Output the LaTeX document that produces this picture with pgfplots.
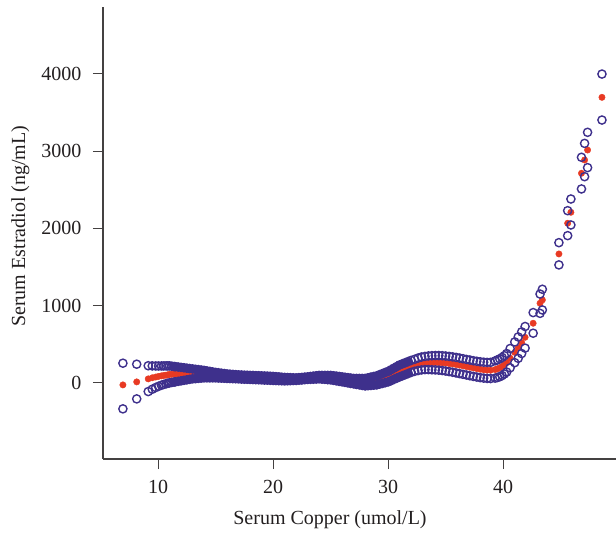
\documentclass[border=0pt]{standalone}
\usepackage{fontspec}
\setmainfont{Liberation Serif}
\usepackage{pgfplots}
\usepackage{pgfplotstable}
\pgfplotsset{compat=1.18}

\definecolor{ciblue}{RGB}{62,48,140}
\definecolor{fitred}{RGB}{232,58,35}
\definecolor{inkgray}{RGB}{35,31,32}

% columns: x, fitted value, lower and upper confidence limit
\pgfplotstableread{
x     fit   lo    hi
6.95  -26   -336  255
8.15  13    -207  242
9.15  52    -112  222
9.50  66    -82   220
9.80  76    -60   219
10.05 84    -44   219
10.30 91    -30   219
10.50 96    -20   220
10.70 100   -11   220
10.85 104   -5    220
11.00 110   0     220
11.20 111   6     216
11.40 112   11    212
}\lefttail

\pgfplotstableread{
x     fit  lo   hi
11.50 112  13   210
11.75 113  20   206
12.00 113  26   201
12.25 114  33   196
12.50 115  39   191
12.75 116  46   186
13.00 116  52   181
13.25 116  55   176
13.50 115  59   172
13.75 114  62   167
14.00 113  65   162
14.25 110  65   155
14.50 107  65   149
14.75 104  65   142
15.00 100  65   136
15.25 97   63   131
15.50 94   62   126
15.75 90   60   121
16.00 87   58   116
16.25 85   57   113
16.50 83   55   110
16.75 80   54   107
17.00 78   52   104
17.25 76   50   102
17.50 74   48   100
17.75 73   47   99
18.00 71   45   97
18.25 70   44   96
18.50 68   42   94
18.75 67   41   93
19.00 65   39   91
19.25 63   37   89
19.50 62   36   88
19.75 60   34   86
20.00 58   32   84
20.25 56   31   81
20.50 53   29   78
20.75 51   28   74
21.00 48   26   71
21.25 48   28   69
21.50 48   29   68
21.75 48   31   66
22.00 48   32   65
22.25 52   35   68
22.50 55   38   71
22.75 58   42   75
23.00 61   45   78
23.25 65   47   83
23.50 68   48   88
23.75 71   50   92
24.00 75   52   97
24.25 73   49   97
24.50 71   46   97
24.75 70   42   97
25.00 68   39   97
25.25 62   33   92
25.50 57   26   88
25.75 51   20   83
26.00 45   13   78
26.25 40   7    73
26.50 34   0    68
26.75 28   -7   63
27.00 22   -13  58
27.25 19   -20  58
27.50 16   -26  58
27.75 13   -33  58
28.00 10   -39  58
28.25 15   -36  66
28.50 21   -33  75
28.75 27   -29  83
29.00 32   -26  91
29.25 45   -16  106
29.50 57   -7   120
29.75 69   3    135
30.00 81   13   149
30.25 100  29   170
30.50 118  46   191
30.75 137  62   212
31.00 155  78   233
31.25 170  93   248
31.50 184  107  262
31.75 199  122  277
}\dense

\pgfplotstableread{
x     fit   lo    hi
32.00 213   136   291
32.30 222   150   305
32.60 235   160   322
32.90 245   168   335
33.20 252   172   343
33.50 257   172   349
33.80 260   170   352
34.10 262   168   354
34.40 262   165   354
34.70 260   160   352
35.00 256   153   348
35.30 251   146   343
35.60 245   138   337
35.90 238   129   330
36.20 230   120   322
36.50 221   111   313
36.80 212   102   304
37.10 203   93    296
37.40 194   84    287
37.70 185   76    280
38.00 177   68    273
38.30 170   62    268
38.60 165   58    265
38.90 164   56    266
39.30 172   62    285
39.50 182   70    298
39.70 195   80    312
39.90 212   95    330
40.10 235   115   352
40.30 262   140   380
40.60 320   195   445
41.00 395   262   530
41.30 455   318   595
41.60 520   380   660
41.90 590   450   730
42.60 772   643   910
43.20 1031  900   1150
43.40 1074  944   1212
44.84 1669  1527  1815
45.60 2066  1906  2229
45.88 2208  2044  2380
46.80 2713  2510  2920
47.07 2885  2669  3100
47.33 3014  2786  3243
48.58 3696  3402  3997
}\righttail

\begin{document}
\begin{tikzpicture}
\begin{axis}[
  name=ax,
  scale only axis,
  width=513pt, height=452pt,
  xmin=5.22, xmax=49.8,
  ymin=-985, ymax=4865,
  axis lines*=left,
  axis line style={line width=1.2pt, color=inkgray!85},
  xtick={10,20,30,40},
  ytick={0,1000,2000,3000,4000},
  tick align=outside,
  major tick length=10pt,
  tick style={line width=1pt, color=inkgray!85},
  scaled y ticks=false,
  /pgf/number format/1000 sep={},
  /pgf/number format/assume math mode=true,
  tick label style={font=\fontsize{20}{24}\selectfont, text=inkgray},
  xticklabel style={yshift=-8pt},
  yticklabel style={xshift=-8pt},
  label style={font=\fontsize{20}{24}\selectfont, text=inkgray},
  xlabel={Serum Copper (umol/L)},
  ylabel={Serum Estradiol (ng/mL)},
  xlabel style={at={(axis description cs:0.4425,-0.146)}, anchor=base},
  ylabel style={at={(axis description cs:-0.161,0.515)}, anchor=center},
  clip=false,
]
% fitted curve
\addplot[only marks, mark=*, mark size=3.2pt, color=fitred] table[x=x, y=fit] {\lefttail};
\addplot[only marks, mark=*, mark size=3.2pt, color=fitred] table[x=x, y=fit] {\dense};
\addplot[only marks, mark=*, mark size=3.2pt, color=fitred] table[x=x, y=fit] {\righttail};
% confidence limits (open circles; where they crowd they merge into a solid band)
\pgfplotsset{ci/.style={only marks, mark=o, mark size=4.1pt, color=ciblue, mark options={line width=1.4pt}}}
\addplot[ci] table[x=x, y=lo] {\lefttail};
\addplot[ci] table[x=x, y=hi] {\lefttail};
\addplot[ci, mark=*, mark options={fill=ciblue, line width=1.4pt}] table[x=x, y=lo] {\dense};
\addplot[ci, mark=*, mark options={fill=ciblue, line width=1.4pt}] table[x=x, y=hi] {\dense};
\addplot[ci] table[x=x, y=lo] {\righttail};
\addplot[ci] table[x=x, y=hi] {\righttail};
\end{axis}
\pgfresetboundingbox
\path[use as bounding box] ([xshift=-103pt,yshift=-74pt]ax.south west) rectangle ([yshift=7pt]ax.north east);
\end{tikzpicture}
\end{document}
